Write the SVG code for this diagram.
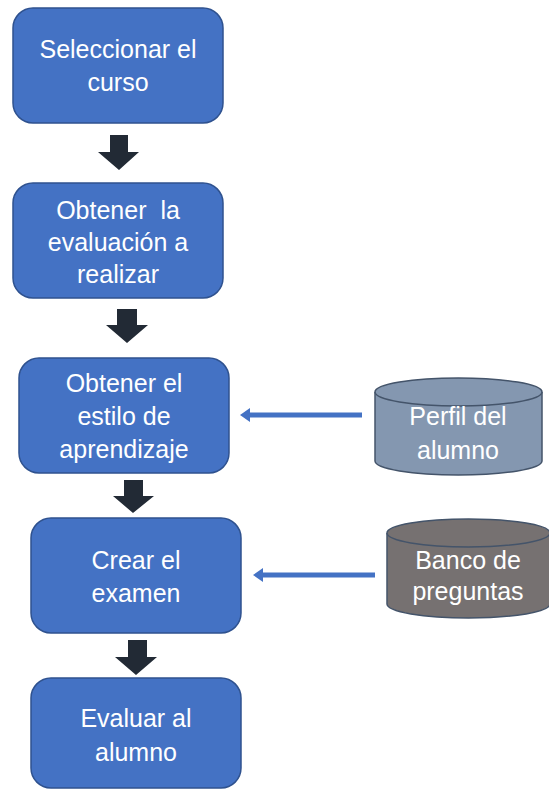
<svg xmlns="http://www.w3.org/2000/svg" width="549" height="790" viewBox="0 0 549 790">
<defs>
<style>
.box{fill:#4472C4;stroke:#2F528F;stroke-width:1.5}
.t{font-family:"Liberation Sans",Arial,sans-serif;font-size:25px;fill:#ffffff;text-anchor:middle;white-space:pre}
.down{fill:#222A35}
.conn{stroke:#4472C4;stroke-width:5;fill:none}
.head{fill:#4472C4}
</style>
</defs>
<rect width="549" height="790" fill="#ffffff"/>
<g id="n1"><rect class="box" x="13" y="8" width="210" height="115" rx="20"/>
<text class="t" x="118" y="58">Seleccionar el</text><text class="t" x="118" y="91">curso</text></g>
<g id="n2"><rect class="box" x="13" y="183" width="210" height="115" rx="20"/>
<text class="t" x="118" y="219" xml:space="preserve">Obtener  la</text><text class="t" x="118" y="251">evaluación a</text><text class="t" x="118" y="283">realizar</text></g>
<g id="n3"><rect class="box" x="19" y="358" width="210" height="115" rx="20"/>
<text class="t" x="124" y="392">Obtener el</text><text class="t" x="124" y="425">estilo de</text><text class="t" x="124" y="458">aprendizaje</text></g>
<g id="n4"><rect class="box" x="31" y="518" width="210" height="115" rx="20"/>
<text class="t" x="136" y="569">Crear el</text><text class="t" x="136" y="602">examen</text></g>
<g id="n5"><rect class="box" x="31" y="678" width="210" height="110" rx="20"/>
<text class="t" x="136" y="727">Evaluar al</text><text class="t" x="136" y="761">alumno</text></g>
<g id="db1">
<path d="M375 392 L375 461 A83.5 14 0 0 0 542 461 L542 392" fill="#8497B0" stroke="#44546A" stroke-width="1.5"/>
<ellipse cx="458.5" cy="392" rx="83.5" ry="14" fill="#8497B0" stroke="#44546A" stroke-width="1.5"/>
<text class="t" x="458" y="425">Perfil del</text><text class="t" x="458" y="459">alumno</text></g>
<g id="db2">
<path d="M387 533 L387 604 A81.5 14 0 0 0 550 604 L550 533" fill="#767171" stroke="#44546A" stroke-width="1.5"/>
<ellipse cx="468.5" cy="533" rx="81.5" ry="14" fill="#767171" stroke="#44546A" stroke-width="1.5"/>
<text class="t" x="468" y="569">Banco de</text><text class="t" x="468" y="600">preguntas</text></g>
<g id="connectors">
<polygon class="down" points="110,135 128,135 128,152 139,152 119,170 98,152 110,152"/>
<polygon class="down" points="117,309 137,309 137,325 148,325 127,343 106,325 117,325"/>
<polygon class="down" points="124,480 143,480 143,496 154,496 133,513 113,496 124,496"/>
<polygon class="down" points="128,640 147,640 147,657 157,657 136,675 115,657 128,657"/>
<line class="conn" x1="362" y1="415" x2="248" y2="415"/>
<polygon class="head" points="240,415 250,408 250,422"/>
<line class="conn" x1="375" y1="575" x2="261" y2="575"/>
<polygon class="head" points="253,575 263,568 263,582"/>
</g>
</svg>
